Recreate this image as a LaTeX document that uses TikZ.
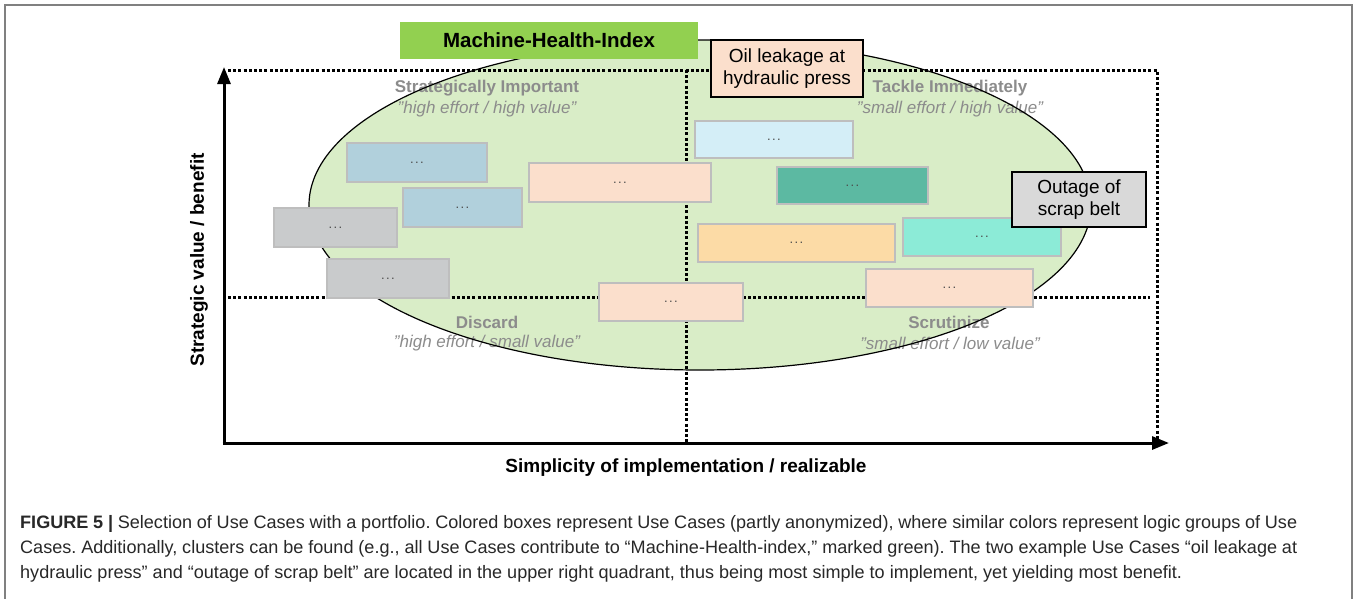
\documentclass[tikz,border=0pt]{standalone}
\usepackage{fontspec}
\usepackage{graphicx}
\setmainfont{Liberation Sans}
\usetikzlibrary{arrows.meta}
\frenchspacing

\definecolor{framegray}{RGB}{128,128,128}
\definecolor{clusterfill}{RGB}{217,237,199}
\definecolor{mhigreen}{RGB}{146,208,80}
\definecolor{quadgray}{RGB}{140,140,140}
\definecolor{boxedge}{RGB}{190,190,190}
\definecolor{ucblue}{RGB}{177,208,220}
\definecolor{ucpeach}{RGB}{251,223,204}
\definecolor{ucgray}{RGB}{201,203,204}
\definecolor{uccyan}{RGB}{212,238,247}
\definecolor{ucteal}{RGB}{92,185,162}
\definecolor{ucorange}{RGB}{252,219,166}
\definecolor{ucaqua}{RGB}{140,235,215}
\definecolor{outagegray}{RGB}{217,217,217}
\definecolor{captext}{RGB}{40,40,40}

% caption font and the three caption lines
\newcommand\capfont{\fontsize{18}{21}\selectfont}
\newcommand\caplineone{\textbf{FIGURE 5 |} Selection of Use Cases with a portfolio. Colored boxes represent Use Cases (partly anonymized), where similar colors represent logic groups of Use}
\newcommand\caplinetwo{Cases. Additionally, clusters can be found (e.g., all Use Cases contribute to “Machine-Health-index,” marked green). The two example Use Cases “oil leakage at}
\newcommand\caplinethree{hydraulic press” and “outage of scrap belt” are located in the upper right quadrant, thus being most simple to implement, yet yielding most benefit.}
\newlength\capnat
\newlength\capfull
% three small dots standing for an anonymized use case
\newcommand\anon{.\kern1.4pt.\kern1.4pt.}

\tikzset{
  dotline/.style={line width=3pt, dash pattern=on 3pt off 2.2pt},
  axisline/.style={line width=3pt, -{Triangle[length=17pt,width=13pt]}},
  ucbox/.style={draw=boxedge, line width=2pt, inner sep=0pt,
    font=\fontsize{13}{15}\selectfont, text=black!70},
  callout/.style={draw=black, line width=1.6pt, inner sep=0pt, align=center,
    font=\fontsize{19}{22}\selectfont},
  quadhead/.style={font=\bfseries\fontsize{17}{20}\selectfont, text=quadgray, inner sep=0pt},
  quadsub/.style={font=\itshape\fontsize{17}{20}\selectfont, text=quadgray, inner sep=0pt},
  axislabel/.style={font=\bfseries\fontsize{19}{22}\selectfont, inner sep=0pt},
  capline/.style={anchor=west, inner sep=0pt, text=captext, font=\capfont},
}

\begin{document}
\settowidth\capnat{\capfont\caplinethree}
\setlength\capfull{\dimexpr\capnat*1277/1162\relax}
\begin{tikzpicture}[x=1pt,y=-1pt]
\useasboundingbox (0,0) rectangle (1357,598);
\fill[white] (0,0) rectangle (1357,598);

% outer frame of the figure
\draw[framegray, line width=1.6pt] (5,605) -- (5,5) -- (1352,5) -- (1352,605);

% cluster area (fill only, outline is drawn later)
\fill[clusterfill] (700,205) ellipse [x radius=391, y radius=165];

% quadrant grid
\coordinate (tl) at (228,70);
\coordinate (tr) at (1157,70);
\coordinate (br) at (1157,443);
\coordinate (mt) at (686,70);
\coordinate (mb) at (686,443);
\coordinate (ml) at (228,297);
\coordinate (mr) at (1150,297);
\draw[dotline] (tl) -- (tr) -- (br);
\draw[dotline] (mt) -- (mb);
\draw[dotline] (ml) -- (mr);

% axes
\coordinate (O) at (224,443);
\coordinate (ytip) at (224,67);
\coordinate (xtip) at (1169,443);
\draw[axisline] ([yshift=-1.5pt]O) -- (ytip);
\draw[axisline] ([xshift=-1.5pt]O) -- (xtip);

\node[axislabel, rotate=90] (ylab) at (199,260) {Strategic value / benefit};
\node[axislabel] (xlab) at (686,468) {Simplicity of implementation / realizable};

% quadrant labels
\node[quadhead] (q1h) at (487,88) {Strategically Important};
\node[quadsub]  (q1s) at (487,109) {”high effort / high value”};
\node[quadhead] (q2h) at (950,88) {Tackle Immediately};
\node[quadsub]  (q2s) at (950,109) {”small effort / high value”};
\node[quadhead] (q3h) at (487,322) {Discard};
\node[quadsub]  (q3s) at (487,343) {”high effort / small value”};
\node[quadhead] (q4h) at (949,322) {Scrutinize};
\node[quadsub]  (q4s) at (950,343) {”small effort / low value”};

% cluster outline
\draw[black, line width=1.2pt] (700,205) ellipse [x radius=391, y radius=165];

% use case boxes
\node[ucbox, fill=ucblue,   minimum width=140pt, minimum height=39pt] (u1)  at (417,162.5) {\anon};
\node[ucbox, fill=ucblue,   minimum width=119pt, minimum height=39pt] (u2)  at (462.5,207.5) {\anon};
\node[ucbox, fill=ucpeach,  minimum width=182pt, minimum height=39pt] (u3)  at (620,182.5) {\anon};
\node[ucbox, fill=ucgray,   minimum width=123pt, minimum height=39pt] (u4)  at (335.5,227.5) {\anon};
\node[ucbox, fill=ucgray,   minimum width=122pt, minimum height=39pt] (u5)  at (388,278.5) {\anon};
\node[ucbox, fill=ucpeach,  minimum width=144pt, minimum height=38pt] (u6)  at (671,302) {\anon};
\node[ucbox, fill=uccyan,   minimum width=158pt, minimum height=37pt] (u7)  at (774,139.5) {\anon};
\node[ucbox, fill=ucteal,   minimum width=151pt, minimum height=37pt] (u8)  at (852.5,185.5) {\anon};
\node[ucbox, fill=ucorange, minimum width=197pt, minimum height=38pt] (u9)  at (796.5,243) {\anon};
\node[ucbox, fill=ucaqua,   minimum width=158pt, minimum height=38pt] (u10) at (982,237) {\anon};
\node[ucbox, fill=ucpeach,  minimum width=167pt, minimum height=38pt] (u11) at (949.5,288) {\anon};

% cluster title
\node[fill=mhigreen, minimum width=298pt, minimum height=37pt, inner sep=0pt,
      font=\bfseries\fontsize{20.5}{24}\selectfont] (mhi) at (549,40.5) {Machine-Health-Index};

% highlighted example use cases
\node[callout, fill=ucpeach, minimum width=152pt, minimum height=57pt] (oil) at (787,68.5)
  {Oil leakage at\\hydraulic press};
\node[callout, fill=outagegray, minimum width=134pt, minimum height=55pt] (outage) at (1079,199.5)
  {Outage of\\scrap belt};

% caption: justified first two lines, natural last line, all set condensed
\node[capline] (cap1) at (20,524) {\resizebox{1277pt}{\height}{\makebox[\capfull][s]{\caplineone}}};
\node[capline] (cap2) at (20,549) {\resizebox{1277pt}{\height}{\makebox[\capfull][s]{\caplinetwo}}};
\node[capline] (cap3) at (20,574) {\resizebox{1162pt}{\height}{\caplinethree}};
\end{tikzpicture}
\end{document}
